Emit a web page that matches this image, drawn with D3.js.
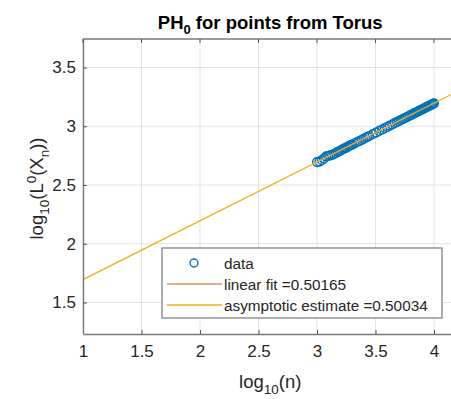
<!DOCTYPE html>
<html><head><meta charset="utf-8">
<script src="https://cdn.jsdelivr.net/npm/d3@7"></script>
<style>body{margin:0;background:#fff;} text{font-family:"Liberation Sans",Arial,sans-serif;}</style>
</head><body>
<svg id="c" width="451" height="399"></svg>
<script>
const xTicks = [1, 1.5, 2, 2.5, 3, 3.5, 4];
const xTickLabels = ["1", "1.5", "2", "2.5", "3", "3.5", "4"];
const yTicks = [1.5, 2, 2.5, 3, 3.5];
const yTickLabels = ["1.5", "2", "2.5", "3", "3.5"];
const dataX = [3.0000,3.0212,3.0414,3.0607,3.0792,3.0969,3.1139,3.1303,3.1461,3.1614,3.1761,3.1903,3.2041,3.2175,3.2304,3.2430,3.2553,3.2672,3.2788,3.2900,3.3010,3.3222,3.3424,3.3617,3.3802,3.3979,3.4150,3.4314,3.4472,3.4771,3.5051,3.5315,3.5563,3.5798,3.6021,3.6232,3.6435,3.6628,3.6812,3.6990,3.7160,3.7324,3.7482,3.7634,3.7782,3.7924,3.8062,3.8195,3.8325,3.8451,3.8573,3.8692,3.8808,3.8921,3.9031,3.9138,3.9243,3.9345,3.9445,3.9542,3.9638,3.9731,3.9823,3.9912,4.0000];
const dataY = [2.695,2.699,2.711,2.726,2.743,2.748,2.752,2.757,2.764,2.772,2.783,2.787,2.794,2.803,2.810,2.814,2.820,2.828,2.834,2.839,2.843,2.855,2.866,2.874,2.883,2.893,2.902,2.909,2.917,2.933,2.946,2.960,2.971,2.984,2.995,3.006,3.015,3.026,3.035,3.043,3.052,3.061,3.068,3.076,3.083,3.091,3.097,3.104,3.111,3.117,3.123,3.129,3.135,3.140,3.146,3.151,3.157,3.162,3.167,3.172,3.176,3.181,3.186,3.190,3.195];
const fitLine = {x: [3, 4], slope: 0.50165, intercept: 1.188};
const asymLine = {x: [1, 4.2], slope: 0.50034, intercept: 1.195};
const legendLabels = ["data", "linear fit =0.50165", "asymptotic estimate =0.50034"];

const svg = d3.select("#c");
const L = 83, R = 457.4, T = 39, B = 334;
const x = d3.scaleLinear().domain([1, 4.2]).range([L, R]);
const y = d3.scaleLinear().domain([1.2319, 3.7426]).range([B, T]);
const axisCol = "#262626";
const cx = (L + R) / 2;

svg.append("defs").append("clipPath").attr("id","clip").append("rect")
  .attr("x",L).attr("y",T).attr("width",R-L).attr("height",B-T);

// grid
const g = svg.append("g");
g.selectAll(".gx").data(xTicks).enter().append("line")
  .attr("x1", d=>x(d)).attr("x2", d=>x(d)).attr("y1", T).attr("y2", B)
  .attr("stroke", "#e3e3e3").attr("stroke-width", 1);
g.selectAll(".gy").data(yTicks).enter().append("line")
  .attr("y1", d=>y(d)).attr("y2", d=>y(d)).attr("x1", L).attr("x2", R)
  .attr("stroke", "#e3e3e3").attr("stroke-width", 1);

const plot = svg.append("g").attr("clip-path","url(#clip)");
plot.selectAll("circle.d").data(dataX).enter().append("circle")
  .attr("cx", d=>x(d)).attr("cy", (d,i)=>y(dataY[i])).attr("r", 4.4)
  .attr("fill", "none").attr("stroke", "#0072BD").attr("stroke-width", 1.4);
const ln = d3.line().x(d=>x(d[0])).y(d=>y(d[1]));
plot.append("path").datum(fitLine.x.map(v=>[v, fitLine.slope*v+fitLine.intercept]))
  .attr("d", ln).attr("stroke", "#D95319").attr("stroke-width", 1).attr("fill","none");
plot.append("path").datum(asymLine.x.map(v=>[v, asymLine.slope*v+asymLine.intercept]))
  .attr("d", ln).attr("stroke", "#EDB120").attr("stroke-width", 1.3).attr("fill","none");

// axes
const xa = svg.append("g").attr("transform", `translate(0,${B})`)
  .call(d3.axisBottom(x).tickValues(xTicks).tickFormat((d,i)=>xTickLabels[i]).tickSizeInner(-4).tickSizeOuter(0).tickPadding(11));
const ya = svg.append("g").attr("transform", `translate(${L},0)`)
  .call(d3.axisLeft(y).tickValues(yTicks).tickFormat((d,i)=>yTickLabels[i]).tickSizeInner(-4).tickSizeOuter(0).tickPadding(7));
[xa, ya].forEach(a=>{
  a.select(".domain").attr("stroke", "#7a7a7a").attr("stroke-width", 1.4);
  a.selectAll(".tick line").attr("stroke", "#555");
  a.selectAll(".tick text").attr("fill", axisCol).style("font-size", "17px");
});
svg.append("line").attr("x1", L).attr("x2", R).attr("y1", T).attr("y2", T).attr("stroke", "#7a7a7a").attr("stroke-width", 1.4);
svg.selectAll(".tt").data(xTicks).enter().append("line")
  .attr("x1", d=>x(d)).attr("x2", d=>x(d)).attr("y1", T).attr("y2", T+4).attr("stroke", "#555");

// title
const title = svg.append("text").attr("x", cx).attr("y", 29).attr("text-anchor","middle")
  .attr("fill", "#000").style("font-size","18.5px").style("font-weight","bold");
title.append("tspan").text("PH");
title.append("tspan").text("0").attr("dy", 5).style("font-size","13px");
title.append("tspan").text(" for points from Torus").attr("dy", -5);

// x label
const xl = svg.append("text").attr("x", cx).attr("y", 388).attr("text-anchor","middle").attr("fill", axisCol).style("font-size","18.5px");
xl.append("tspan").text("log");
xl.append("tspan").text("10").attr("dy", 6).style("font-size","13.5px");
xl.append("tspan").text("(n)").attr("dy", -6);

// y label
const yl = svg.append("text").attr("transform", "translate(43,188.5) rotate(-90)").attr("text-anchor","middle").attr("fill", axisCol).style("font-size","18.5px");
yl.append("tspan").text("log");
yl.append("tspan").text("10").attr("dy", 6).style("font-size","13.5px");
yl.append("tspan").text("(L").attr("dy", -6);
yl.append("tspan").text("0").attr("dy", -7).style("font-size","13.5px");
yl.append("tspan").text("(X").attr("dy", 7);
yl.append("tspan").text("n").attr("dy", 6).style("font-size","13.5px");
yl.append("tspan").text("))").attr("dy", -6);

// legend
const lg = svg.append("g");
lg.append("rect").attr("x", 162).attr("y", 248).attr("width", 280).attr("height", 70)
  .attr("fill", "#fff").attr("stroke", "#7a7a7a").attr("stroke-width", 1.2);
const rows = [263, 284, 305];
lg.append("circle").attr("cx", 194).attr("cy", rows[0]).attr("r", 4).attr("fill","none").attr("stroke","#0072BD").attr("stroke-width",1.4);
lg.append("line").attr("x1", 167).attr("x2", 222).attr("y1", rows[1]).attr("y2", rows[1]).attr("stroke", "#D95319").attr("stroke-width",1);
lg.append("line").attr("x1", 167).attr("x2", 222).attr("y1", rows[2]).attr("y2", rows[2]).attr("stroke", "#EDB120").attr("stroke-width",1.3);
lg.selectAll("text.l").data(legendLabels).enter().append("text")
  .attr("x", 224).attr("y", (d,i)=>rows[i]+5.5).attr("fill", axisCol).style("font-size","15.3px").text(d=>d);
</script>
</body></html>
